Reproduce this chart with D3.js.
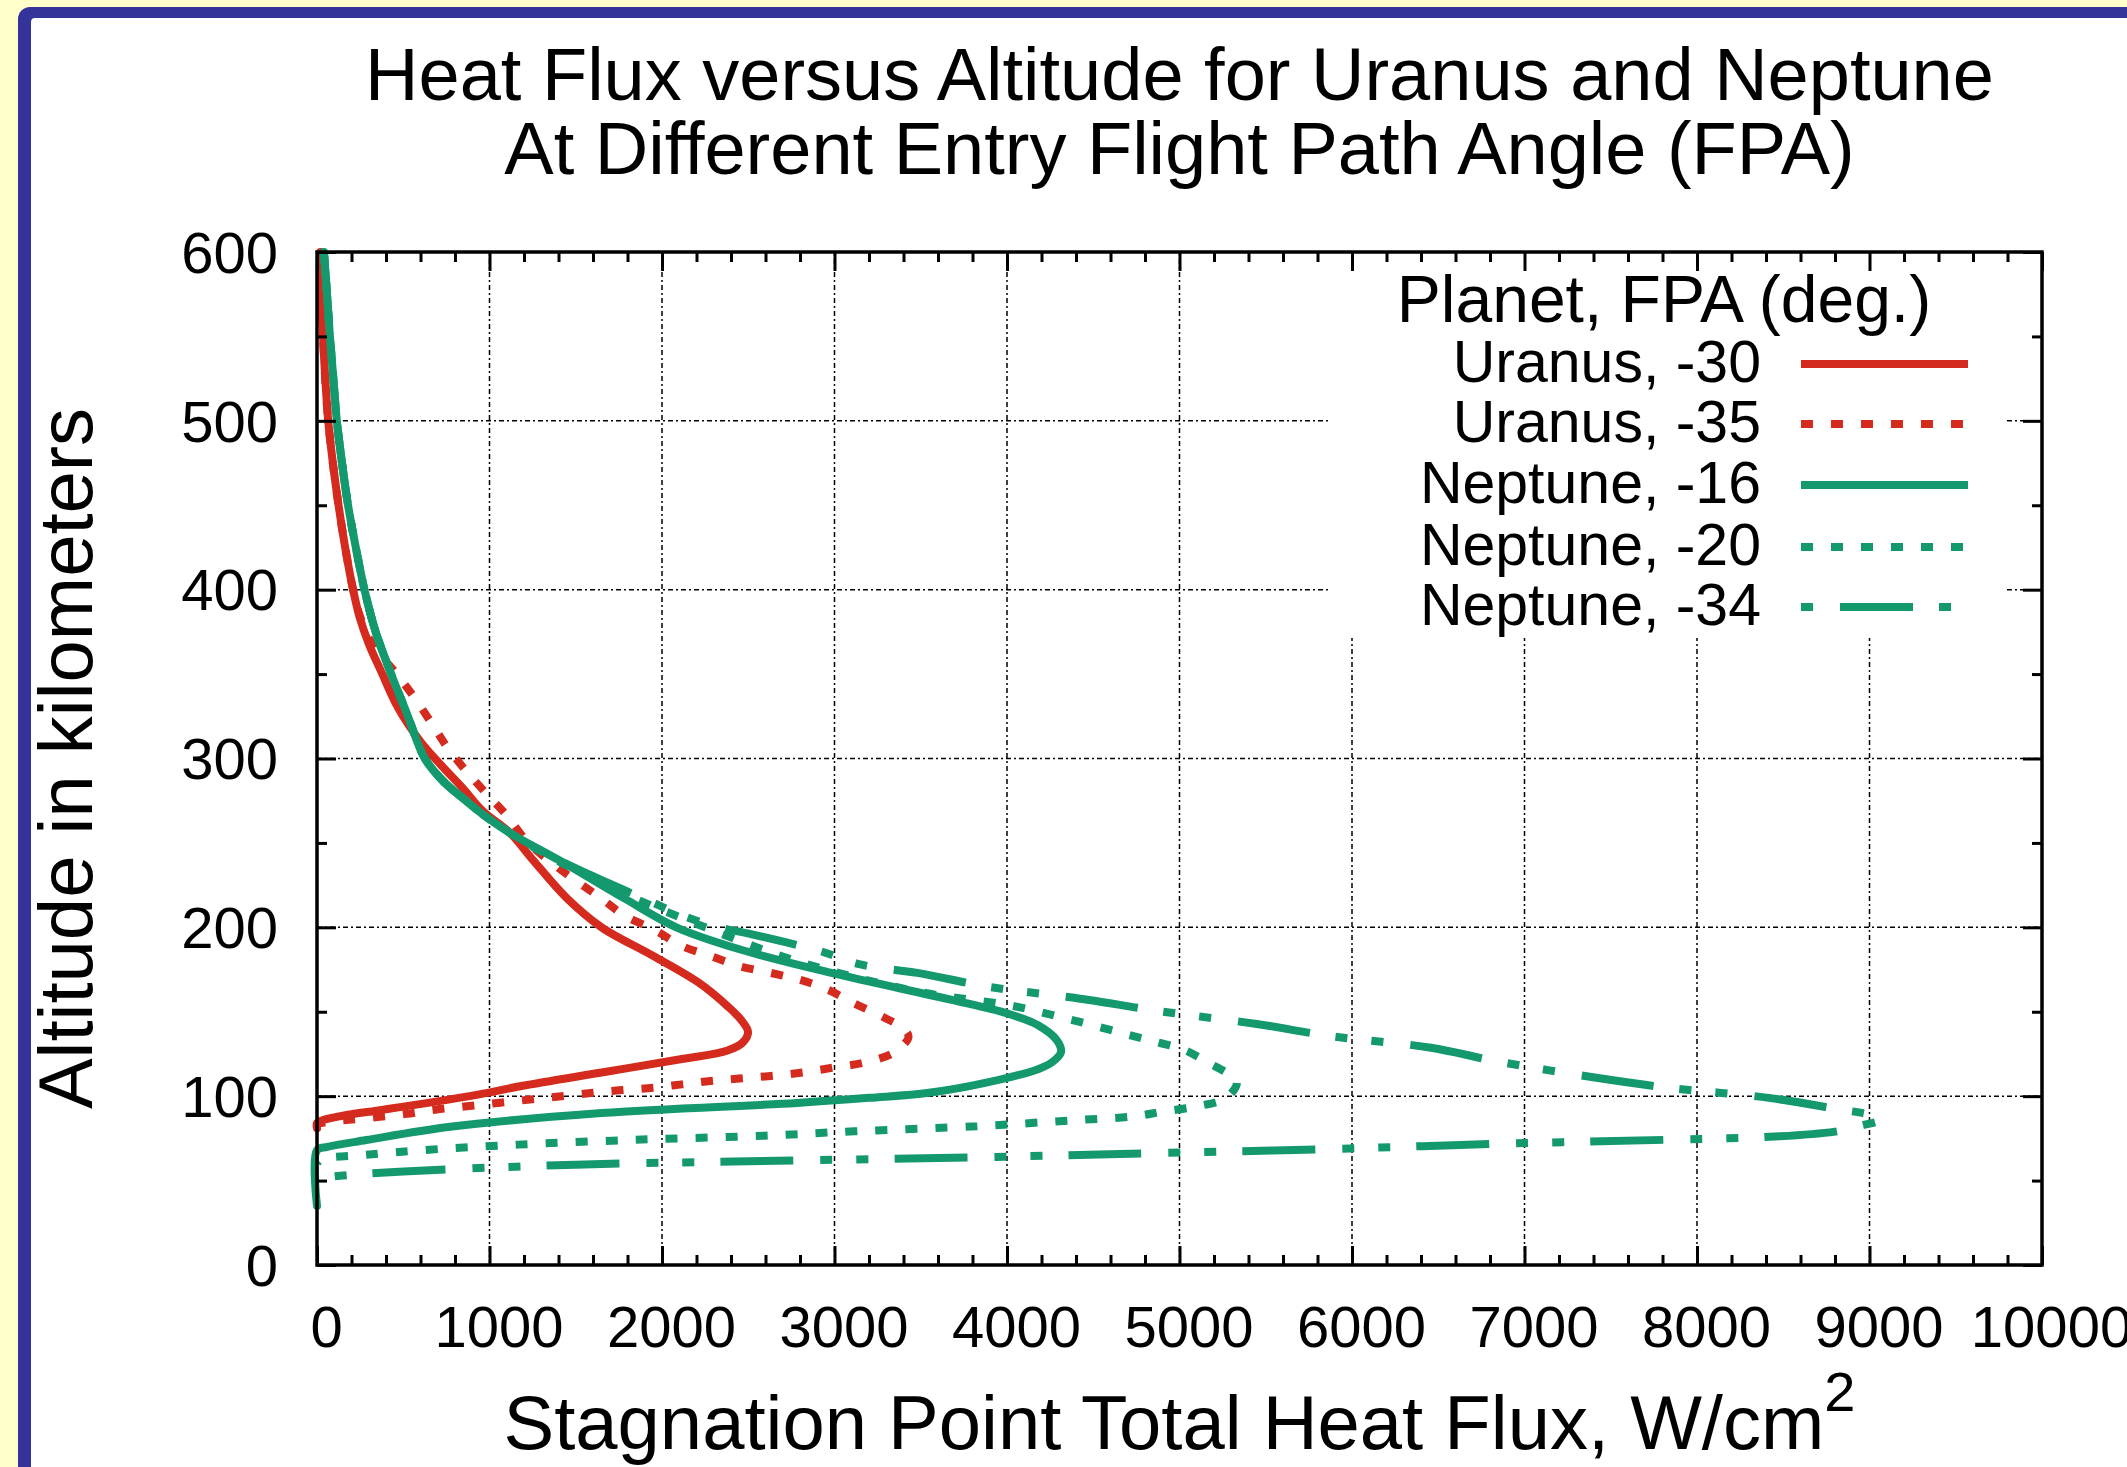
<!DOCTYPE html>
<html>
<head>
<meta charset="utf-8">
<script src="https://cdn.jsdelivr.net/npm/d3@7"></script>
<style>
  html, body { margin: 0; padding: 0; background: #FFFFCC; }
  svg { display: block; }
  text { font-family: "Liberation Sans", Arial, Helvetica, sans-serif; fill: #000; }
</style>
</head>
<body>
<svg id="chart" width="2127" height="1467"></svg>
<script>
// ---------------- DATA ----------------
const titleLines = ["Heat Flux versus Altitude for Uranus and Neptune",
                    "At Different Entry Flight Path Angle (FPA)"];
const xAxisTitle = "Stagnation Point Total Heat Flux, W/cm";
const yAxisTitle = "Altitude in kilometers";
const legendTitle = "Planet, FPA (deg.)";

const xTickValues = [0, 1000, 2000, 3000, 4000, 5000, 6000, 7000, 8000, 9000, 10000];
const yTickValues = [0, 100, 200, 300, 400, 500, 600];

const seriesNames = ["Uranus, -30", "Uranus, -35", "Neptune, -16", "Neptune, -20", "Neptune, -34"];

// [heat flux W/cm^2, altitude km]
const uranus30 = [
  [20,600],[27,575],[35,550],[48,525],[65,500],[92,475],[125,450],[160,427],[205,402],[246,384],
  [300,368],[370,352],[470,330],[600,310],[720,296],[840,283],[960,269],[1118,256],[1251,240],
  [1451,217],[1650,200],[1950,183],[2216,167],[2383,153],[2460,145],[2499,138],[2470,132],
  [2380,127],[2116,122],[1650,114],[1185,106],[885,100],[386,92],[180,89],[40,86],[0,84],[0,81]
];
const uranus35 = [
  [20,600],[35,550],[65,500],[125,450],[205,402],[250,384],[330,366],[446,352],[558,337],
  [670,320],[759,306],[870,292],[993,278],[1094,267],[1217,251],[1350,239],[1649,217],
  [1783,207],[1965,198],[2115,189],[2281,183],[2448,177],[2631,173],[2797,169],[2963,163],
  [3113,155],[3279,147],[3400,140],[3429,135],[3346,126],[3179,120],[2996,117],[2813,114],
  [2631,112],[2448,110.5],[2281,109],[2115,107],[1949,105],[1766,103.6],[1600,102],[1417,100],
  [1234,98],[1051,96],[868,94],[685,92],[519,89.5],[336,87.5],[153,85.7],[20,84],[0,83]
];
const neptune16 = [
  [40,600],[58,575],[75,550],[95,525],[115,500],[145,475],[180,450],[225,425],[275,400],
  [340,375],[430,350],[520,327],[625,300],[737,286],[852,276],[960,267],[1118,256],[1451,237],
  [1784,217],[2083,200],[2449,187],[2982,173],[3681,157],[4000,149],[4180,142],[4290,133],
  [4313,126],[4260,120],[4180,116],[3880,108],[3547,102],[3200,99],[2782,96],[1650,90],
  [785,82],[286,74],[60,70],[0,68],[0,35]
];
const neptune20 = [
  [40,600],[58,575],[75,550],[95,525],[115,500],[145,475],[180,450],[225,425],[275,400],
  [340,375],[430,350],[520,327],[625,300],[737,286],[852,276],[960,267],[1118,256],[1384,240],
  [1780,220],[2250,200],[2782,180],[3480,162],[4030,153.5],[4363,145.5],[4696,136.6],
  [4879,131.7],[5021,127.7],[5167,119.8],[5300,112],[5333,108],[5271,99],[5104,94],[4912,91],
  [4729,88],[4380,85.7],[3827,82.2],[3115,79.2],[2597,76.6],[1884,74.3],[1167,71.3],
  [651,68.3],[286,65.3],[20,62.4],[0,60]
];
const neptune34 = [
  [40,600],[58,575],[75,550],[95,525],[115,500],[145,475],[180,450],[225,425],[275,400],
  [340,375],[430,350],[520,327],[625,300],[737,286],[852,276],[960,267],[1118,256],[1400,240],
  [1584,231],[1983,213],[2116,207],[2330,200],[2515,196],[2914,186],[3150,178],[3480,173],
  [3880,165],[4250,160],[4476,157],[4875,150.5],[5458,142.6],[5875,135.6],[6458,128.7],
  [6833,120.8],[7417,110.9],[7833,105],[8417,99],[8833,92],[9000,89],[9062,86],[8950,82.5],
  [8850,80],[8800,79],[8479,76.2],[7875,74.3],[6875,71.9],[5875,68.7],[4875,66.3],[3911,64],
  [2497,61.4],[1500,59.4],[502,55.4],[100,52.5],[0,51]
];
const seriesData = [uranus30, uranus35, neptune16, neptune20, neptune34];

// ---------------- STYLE ----------------
const RED = "#d52a1e", GREEN = "#14996f";
const seriesStyle = [
  { color: RED,   dash: null, legendOffset: 0 },
  { color: RED,   dash: "12,18", legendOffset: 0 },
  { color: GREEN, dash: null, legendOffset: 0 },
  { color: GREEN, dash: "12,18", legendOffset: 0 },
  { color: GREEN, dash: "73,26,12,24,12,27", legendOffset: 135 }
];
const FONT = '"Liberation Sans", Arial, Helvetica, sans-serif';
const LINE_W = 8;

const W = 2127, H = 1467;
const P = { left: 317, right: 2042, top: 252, bottom: 1265 };

const svg = d3.select("#chart");

// frame
svg.append("rect").attr("x", 0).attr("y", 0).attr("width", W).attr("height", H).attr("fill", "#FFFFCC");
svg.append("rect").attr("x", 18).attr("y", 7).attr("width", W + 40).attr("height", H + 40)
  .attr("rx", 12).attr("fill", "#333399");
svg.append("rect").attr("x", 31).attr("y", 18).attr("width", W + 40).attr("height", H + 40)
  .attr("rx", 4).attr("fill", "#ffffff");

const x = d3.scaleLinear().domain([0, 10000]).range([P.left, P.right]);
const y = d3.scaleLinear().domain([0, 600]).range([P.bottom, P.top]);

// grid
const grid = svg.append("g").attr("stroke", "#000").attr("stroke-width", 1.5)
  .attr("stroke-dasharray", "5,3,2,3");
xTickValues.slice(1, -1).forEach(v => {
  grid.append("line").attr("x1", x(v)).attr("x2", x(v)).attr("y1", y(0)).attr("y2", y(600));
});
yTickValues.slice(1, -1).forEach(v => {
  grid.append("line").attr("x1", x(0)).attr("x2", x(10000)).attr("y1", y(v)).attr("y2", y(v));
});

// legend background (opaque key box)
const legBox = { x0: 1329, x1: 2005, y0: 254, y1: 638 };
svg.append("rect").attr("x", legBox.x0).attr("y", legBox.y0)
  .attr("width", legBox.x1 - legBox.x0).attr("height", legBox.y1 - legBox.y0).attr("fill", "#fff");

// curves
const line = d3.line().x(d => x(d[0])).y(d => y(d[1])).curve(d3.curveCatmullRom.alpha(0.5));
seriesData.forEach((data, i) => {
  const st = seriesStyle[i];
  const p = svg.append("path").datum(data).attr("d", line)
    .attr("fill", "none").attr("stroke", st.color).attr("stroke-width", LINE_W)
    .attr("stroke-linejoin", "round").attr("stroke-linecap", st.dash ? "butt" : "round");
  if (st.dash) p.attr("stroke-dasharray", st.dash);
});

// axes
const majorX = xTickValues;
const minorX = d3.range(0, 10001, 200).filter(v => v % 1000 !== 0);
const majorY = yTickValues;
const minorY = d3.range(50, 600, 100);

function styleAxis(g) {
  g.select(".domain").remove();
  g.selectAll(".tick line").attr("stroke", "#000").attr("stroke-width", 3);
}

svg.append("g").attr("transform", `translate(0,${P.bottom})`)
  .call(d3.axisBottom(x).tickValues(majorX).tickSize(-19).tickSizeOuter(0).tickFormat(d3.format("d")))
  .call(styleAxis)
  .call(g => g.selectAll(".tick text").attr("y", 82).attr("dy", 0).attr("dx", 9)
    .style("font-family", FONT).style("font-size", "58px").attr("fill", "#000"));
svg.append("g").attr("transform", `translate(0,${P.bottom})`)
  .call(d3.axisBottom(x).tickValues(minorX).tickSize(-10).tickSizeOuter(0).tickFormat(""))
  .call(styleAxis);
svg.append("g").attr("transform", `translate(0,${P.top})`)
  .call(d3.axisTop(x).tickValues(majorX).tickSize(-19).tickSizeOuter(0).tickFormat(""))
  .call(styleAxis);
svg.append("g").attr("transform", `translate(0,${P.top})`)
  .call(d3.axisTop(x).tickValues(minorX).tickSize(-10).tickSizeOuter(0).tickFormat(""))
  .call(styleAxis);

svg.append("g").attr("transform", `translate(${P.left},0)`)
  .call(d3.axisLeft(y).tickValues(majorY).tickSize(-19).tickSizeOuter(0).tickFormat(d3.format("d")))
  .call(styleAxis)
  .call(g => g.selectAll(".tick text").attr("x", -39).attr("dy", "0.35em")
    .style("font-family", FONT).style("font-size", "58px").attr("fill", "#000"));
svg.append("g").attr("transform", `translate(${P.left},0)`)
  .call(d3.axisLeft(y).tickValues(minorY).tickSize(-10).tickSizeOuter(0).tickFormat(""))
  .call(styleAxis);
svg.append("g").attr("transform", `translate(${P.right},0)`)
  .call(d3.axisRight(y).tickValues(majorY).tickSize(-19).tickSizeOuter(0).tickFormat(""))
  .call(styleAxis);
svg.append("g").attr("transform", `translate(${P.right},0)`)
  .call(d3.axisRight(y).tickValues(minorY).tickSize(-10).tickSizeOuter(0).tickFormat(""))
  .call(styleAxis);

// border
svg.append("rect").attr("x", P.left).attr("y", P.top)
  .attr("width", P.right - P.left).attr("height", P.bottom - P.top)
  .attr("fill", "none").attr("stroke", "#000").attr("stroke-width", 3.5);

// titles
const cx = (P.left + P.right) / 2;
svg.append("text").attr("x", cx).attr("y", 100).attr("text-anchor", "middle")
  .style("font-size", "74px").text(titleLines[0]);
svg.append("text").attr("x", cx).attr("y", 174).attr("text-anchor", "middle")
  .style("font-size", "74px").text(titleLines[1]);

const xt = svg.append("text").attr("x", cx).attr("y", 1449).attr("text-anchor", "middle")
  .style("font-size", "76px");
xt.append("tspan").text(xAxisTitle);
xt.append("tspan").attr("dy", -38).style("font-size", "56px").text("2");

svg.append("text").attr("transform", `translate(92,${(P.top + P.bottom) / 2}) rotate(-90)`)
  .attr("text-anchor", "middle").style("font-size", "76px").text(yAxisTitle);

// legend
svg.append("text").attr("x", 1664).attr("y", 322).attr("text-anchor", "middle")
  .style("font-size", "66px").text(legendTitle);
const legBaselines = [382, 442, 503, 565, 625];
seriesNames.forEach((name, i) => {
  const st = seriesStyle[i];
  svg.append("text").attr("x", 1761).attr("y", legBaselines[i]).attr("text-anchor", "end")
    .style("font-size", "59px").text(name);
  const l = svg.append("line").attr("x1", 1801).attr("x2", 1968)
    .attr("y1", legBaselines[i] - 18).attr("y2", legBaselines[i] - 18)
    .attr("stroke", st.color).attr("stroke-width", LINE_W);
  if (st.dash) l.attr("stroke-dasharray", st.dash).attr("stroke-dashoffset", st.legendOffset);
});
</script>
</body>
</html>
